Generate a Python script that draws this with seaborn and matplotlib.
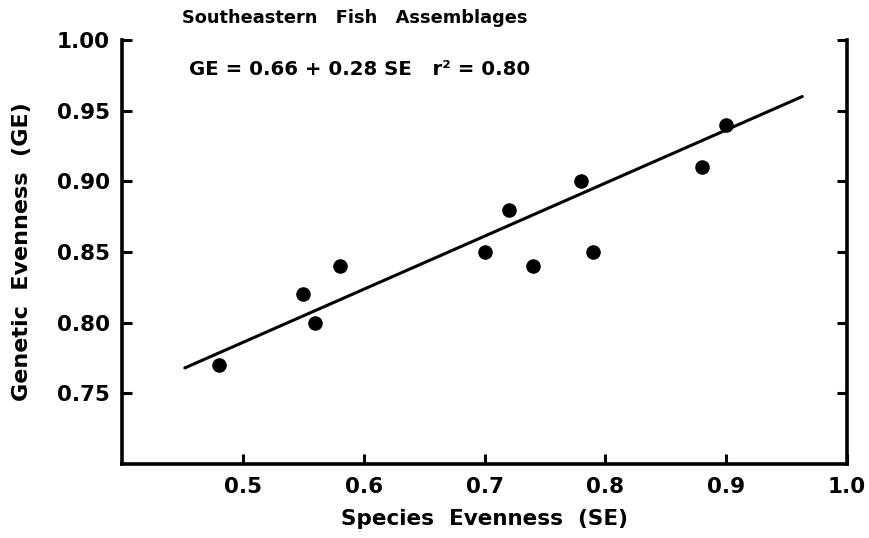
import matplotlib
matplotlib.use("Agg")
import matplotlib.pyplot as plt
import seaborn as sns
import pandas as pd

# Data
species_evenness = [0.48, 0.55, 0.56, 0.58, 0.70, 0.72, 0.74, 0.78, 0.79, 0.88, 0.90]
genetic_evenness = [0.77, 0.82, 0.80, 0.84, 0.85, 0.88, 0.84, 0.90, 0.85, 0.91, 0.94]
fit_x = [0.452, 0.963]
fit_y = [0.768, 0.960]
x_ticks = [0.5, 0.6, 0.7, 0.8, 0.9, 1.0]
x_tick_labels = ["0.5", "0.6", "0.7", "0.8", "0.9", "1.0"]
y_ticks = [0.75, 0.80, 0.85, 0.90, 0.95, 1.00]
y_tick_labels = ["0.75", "0.80", "0.85", "0.90", "0.95", "1.00"]
title_text = "Southeastern   Fish   Assemblages"
equation_text = "GE = 0.66 + 0.28 SE   r² = 0.80"
x_label = "Species  Evenness  (SE)"
y_label = "Genetic  Evenness  (GE)"

sns.set_style("ticks")
plt.rcParams["font.family"] = ["DejaVu Sans"]
plt.rcParams["font.weight"] = "bold"
plt.rcParams["text.color"] = "black"
plt.rcParams["axes.labelcolor"] = "black"
plt.rcParams["xtick.color"] = "black"
plt.rcParams["ytick.color"] = "black"

pts = pd.DataFrame({"SE": species_evenness, "GE": genetic_evenness})
fit = pd.DataFrame({"SE": fit_x, "GE": fit_y})

fig = plt.figure(figsize=(8.69, 5.38), dpi=100)
ax = fig.add_axes([0.1404, 0.1375, 0.8343, 0.7882])

sns.lineplot(data=fit, x="SE", y="GE", ax=ax, color="black", linewidth=2.2)
sns.scatterplot(data=pts, x="SE", y="GE", ax=ax, color="black", s=110,
                edgecolor="black", linewidth=0, zorder=3)

ax.set_xlim(0.4, 1.0)
ax.set_ylim(0.70, 1.00)
ax.set_xticks(x_ticks)
ax.set_xticklabels(x_tick_labels)
ax.set_yticks(y_ticks)
ax.set_yticklabels(y_tick_labels)

for side in ["left", "bottom", "right"]:
    ax.spines[side].set_linewidth(2.6)
    ax.spines[side].set_color("black")
ax.spines["top"].set_visible(False)

ax.tick_params(axis="both", direction="in", length=7, width=2.2,
               labelsize=15.5, pad=9, colors="black")
ax.tick_params(axis="y", right=True, labelright=False)

ax.set_xlabel(x_label, fontsize=15.5, fontweight="bold", labelpad=9)
ax.set_ylabel(y_label, fontsize=16, fontweight="bold", labelpad=18)

fig.text(0.408, 0.967, title_text, ha="center", va="center",
         fontsize=12.8, fontweight="bold")
fig.text(0.414, 0.870, equation_text, ha="center", va="center",
         fontsize=14.2, fontweight="bold")

fig.savefig("out.png", dpi=100)
